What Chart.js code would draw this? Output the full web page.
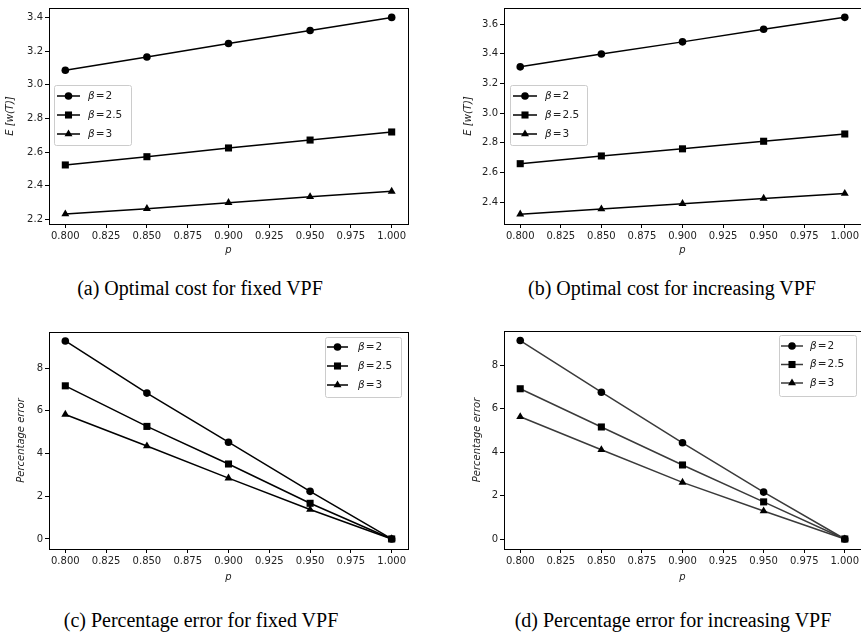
<!DOCTYPE html>
<html>
<head>
<meta charset="utf-8">
<script src="https://cdn.jsdelivr.net/npm/chart.js@4.4.1/dist/chart.umd.min.js"></script>
<style>
  html, body { margin: 0; padding: 0; background: #fff; }
  body { width: 861px; height: 637px; position: relative; overflow: hidden; }
  .box { position: absolute; }
  .cap { position: absolute; font-family: "Liberation Serif", "DejaVu Serif", serif; font-size: 20px; color: #000; white-space: nowrap; transform: translateX(-50%); }
</style>
</head>
<body>

<div class="box" style="left:0;top:0;width:430px;height:260px"><canvas id="chartA"></canvas></div>
<div class="box" style="left:430px;top:0;width:440px;height:260px"><canvas id="chartB"></canvas></div>
<div class="box" style="left:0;top:320px;width:430px;height:275px"><canvas id="chartC"></canvas></div>
<div class="box" style="left:430px;top:320px;width:440px;height:275px"><canvas id="chartD"></canvas></div>

<div class="cap" style="left:200px;top:277px">(a) Optimal cost for fixed VPF</div>
<div class="cap" style="left:672px;top:277px">(b) Optimal cost for increasing VPF</div>
<div class="cap" style="left:201px;top:609px">(c) Percentage error for fixed VPF</div>
<div class="cap" style="left:673px;top:609px">(d) Percentage error for increasing VPF</div>

<script>
// x values (p) and tick labels
const pValues = [0.80, 0.85, 0.90, 0.95, 1.00]
const pTicks = [0.800, 0.825, 0.850, 0.875, 0.900, 0.925, 0.950, 0.975, 1.000]
const betaNames = ['2', '2.5', '3']

// (a) optimal cost, fixed VPF
const costFixedB2 = [3.086, 3.165, 3.245, 3.322, 3.400]
const costFixedB25 = [2.523, 2.572, 2.624, 2.671, 2.719]
const costFixedB3 = [2.231, 2.263, 2.299, 2.334, 2.366]
const costFixedTicks = [2.2, 2.4, 2.6, 2.8, 3.0, 3.2, 3.4]

// (b) optimal cost, increasing VPF
const costIncB2 = [3.312, 3.398, 3.480, 3.565, 3.645]
const costIncB25 = [2.660, 2.712, 2.760, 2.811, 2.860]
const costIncB3 = [2.320, 2.355, 2.391, 2.426, 2.459]
const costIncTicks = [2.4, 2.6, 2.8, 3.0, 3.2, 3.4, 3.6]

// (c) percentage error, fixed VPF
const errFixedB2 = [9.27, 6.83, 4.53, 2.23, 0]
const errFixedB25 = [7.17, 5.27, 3.51, 1.67, 0]
const errFixedB3 = [5.83, 4.35, 2.85, 1.38, 0]

// (d) percentage error, increasing VPF
const errIncB2 = [9.14, 6.76, 4.43, 2.16, 0]
const errIncB25 = [6.92, 5.16, 3.41, 1.71, 0]
const errIncB3 = [5.63, 4.11, 2.61, 1.29, 0]
const errTicks = [0, 2, 4, 6, 8]

const markers = ['circle', 'rect', 'triangle']
const markerSize = [3.8, 5, 4.6]

function series(values, color) {
    return values.map(function (vals, i) {
        return {
            label: 'β = ' + betaNames[i],
            data: pValues.map((p, j) => ({ x: p, y: vals[j] })),
            borderColor: color,
            borderWidth: 1.5,
            pointStyle: markers[i],
            pointRadius: markerSize[i],
            pointBackgroundColor: '#000',
            pointBorderColor: '#000',
            pointBorderWidth: 0,
            tension: 0
        }
    })
}

// matplotlib style frame round the plot area
const frame = {
    id: 'frame',
    afterDraw(chart) {
        const a = chart.chartArea
        const ctx = chart.ctx
        ctx.save()
        ctx.strokeStyle = '#000'
        ctx.lineWidth = 1
        ctx.strokeRect(Math.round(a.left) + 0.5, Math.round(a.top) + 0.5, Math.round(a.right - a.left), Math.round(a.bottom - a.top))
        ctx.restore()
    }
}

// legend box drawn like matplotlib
const mplLegend = {
    id: 'mplLegend',
    afterDatasetsDraw(chart, args, o) {
        const ctx = chart.ctx
        ctx.save()
        ctx.beginPath()
        ctx.roundRect(o.x + 0.5, o.y + 0.5, o.w, o.h, 2)
        ctx.fillStyle = 'rgba(255,255,255,0.85)'
        ctx.fill()
        ctx.strokeStyle = '#cccccc'
        ctx.lineWidth = 1
        ctx.stroke()
        chart.data.datasets.forEach(function (ds, i) {
            const cy = o.y + o.first + i * o.gap
            ctx.beginPath()
            ctx.moveTo(o.x + o.line0, cy)
            ctx.lineTo(o.x + o.line1, cy)
            ctx.strokeStyle = ds.borderColor
            ctx.lineWidth = 1.5
            ctx.stroke()
            ctx.fillStyle = '#000'
            Chart.helpers.drawPoint(ctx, { pointStyle: ds.pointStyle, radius: ds.pointRadius, rotation: 0, borderWidth: 0 }, o.x + (o.line0 + o.line1) / 2, cy)
            ctx.fillStyle = '#222'
            ctx.textBaseline = 'middle'
            let tx = o.x + o.textX
            ctx.font = 'italic 10.5px "DejaVu Sans"'
            ctx.fillText('β', tx, cy)
            tx += ctx.measureText('β').width + 1
            ctx.font = '10.5px "DejaVu Sans"'
            const rest = '=' + betaNames[i]
            ctx.fillText('=', tx, cy)
            tx += ctx.measureText('=').width + 1
            ctx.fillText(betaNames[i], tx, cy)
        })
        ctx.restore()
    }
}

const tickFont = { family: 'DejaVu Sans', size: 10 }

function makeChart(id, datasets, cfg) {
    const ctx = document.getElementById(id).getContext('2d')
    return new Chart(ctx, {
        type: 'line',
        data: { datasets: datasets },
        plugins: [frame, mplLegend],
        options: {
            responsive: true,
            maintainAspectRatio: false,
            animation: false,
            events: [],
            layout: { padding: { top: cfg.area.t, right: cfg.width - cfg.area.r, left: 0, bottom: 0 } },
            plugins: {
                legend: { display: false },
                tooltip: { enabled: false },
                mplLegend: cfg.legend
            },
            scales: {
                x: {
                    type: 'linear',
                    min: 0.79,
                    max: 1.01,
                    afterBuildTicks: s => { s.ticks = pTicks.map(v => ({ value: v })) },
                    afterFit: s => { s.height = cfg.height - cfg.area.b },
                    border: { display: false },
                    grid: { drawOnChartArea: false, drawTicks: true, tickLength: 4, color: '#000', lineWidth: 1 },
                    ticks: { font: tickFont, color: '#222', padding: 2, maxRotation: 0, autoSkip: false, callback: v => v.toFixed(3) },
                    title: { display: true, text: 'p', font: { family: 'DejaVu Sans', size: 10, style: 'italic' }, color: '#222', padding: { top: 0, bottom: cfg.xTitlePad } }
                },
                y: {
                    type: 'linear',
                    min: cfg.yMin,
                    max: cfg.yMax,
                    afterBuildTicks: s => { s.ticks = cfg.yTicks.map(v => ({ value: v })) },
                    afterFit: s => { s.width = cfg.area.l },
                    border: { display: false },
                    grid: { drawOnChartArea: false, drawTicks: true, tickLength: 4, color: '#000', lineWidth: 1 },
                    ticks: { font: tickFont, color: '#222', padding: 2, autoSkip: false, callback: v => cfg.yDigits ? v.toFixed(cfg.yDigits) : String(v) },
                    title: { display: true, text: cfg.yTitle, font: { family: 'DejaVu Sans', size: 10, style: 'italic' }, color: '#222', padding: { top: cfg.yTitlePad, bottom: 0 } }
                }
            }
        }
    })
}

makeChart('chartA', series([costFixedB2, costFixedB25, costFixedB3], '#000'), {
    width: 430, height: 260,
    area: { l: 49, t: 7, r: 408, b: 224 },
    yMin: 2.172, yMax: 3.456, yTicks: costFixedTicks, yDigits: 1,
    yTitle: 'E [w(T)]', yTitlePad: 4, xTitlePad: 4,
    legend: { x: 54, y: 85, w: 77, h: 60, first: 11, gap: 19, line0: 3, line1: 26, textX: 34 }
})

makeChart('chartB', series([costIncB2, costIncB25, costIncB3], '#000'), {
    width: 440, height: 260,
    area: { l: 74, t: 7, r: 431, b: 224 },
    yMin: 2.254, yMax: 3.708, yTicks: costIncTicks, yDigits: 1,
    yTitle: 'E [w(T)]', yTitlePad: 32, xTitlePad: 4,
    legend: { x: 80, y: 85, w: 77, h: 60, first: 11, gap: 19, line0: 3, line1: 27, textX: 35 }
})

makeChart('chartC', series([errFixedB2, errFixedB25, errFixedB3], '#000'), {
    width: 430, height: 275,
    area: { l: 49, t: 12, r: 408, b: 229 },
    yMin: -0.47, yMax: 9.69, yTicks: errTicks, yDigits: 0,
    yTitle: 'Percentage error', yTitlePad: 15, xTitlePad: 12,
    legend: { x: 325, y: 17, w: 76, h: 60, first: 10, gap: 19, line0: 2, line1: 23, textX: 33 }
})

makeChart('chartD', series([errIncB2, errIncB25, errIncB3], '#3a3a3a'), {
    width: 440, height: 275,
    area: { l: 74, t: 11, r: 431, b: 229 },
    yMin: -0.46, yMax: 9.58, yTicks: errTicks, yDigits: 0,
    yTitle: 'Percentage error', yTitlePad: 41, xTitlePad: 12,
    legend: { x: 349, y: 15, w: 77, h: 61, first: 11, gap: 18.5, line0: 2, line1: 24, textX: 31 }
})
</script>
</body>
</html>
